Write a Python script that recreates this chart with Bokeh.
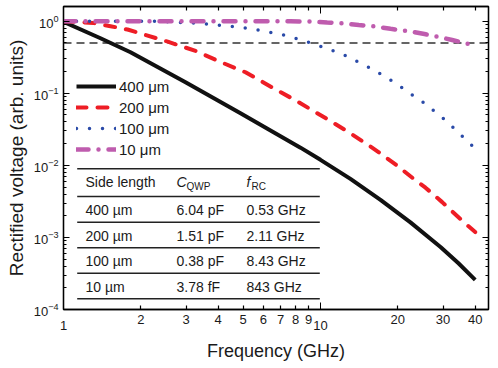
from bokeh.plotting import figure
from bokeh.models import (LogAxis, LinearAxis, FixedTicker, LogTickFormatter, Span, Legend,
                          LegendItem, Label, BoxAnnotation, Range1d)
from bokeh.embed import file_html
from bokeh.resources import INLINE

FONT = "Liberation Sans"

# ---------------- data ----------------
freq_400 = [1.0, 1.393, 1.823, 2.984, 4.884, 8.36, 10.0, 13.08, 17.12, 22.39, 29.31, 34.43, 40.0]
volt_400 = [0.978, 0.580, 0.371, 0.1422, 0.0528, 0.01761, 0.01193, 0.00649, 0.00332,
            0.001615, 0.000738, 0.000438, 0.000258]

freq_200 = [1.0, 1.308, 1.524, 1.775, 1.993, 2.562, 3.264, 4.083, 5.108, 5.842, 6.564, 7.99,
            9.39, 10.94, 12.85, 15.19, 16.82, 19.58, 23.0, 25.62, 29.75, 36.1, 40.0]
volt_200 = [1.0, 0.947, 0.852, 0.767, 0.675, 0.516, 0.387, 0.272, 0.1957, 0.1492, 0.1173,
            0.0799, 0.0568, 0.0412, 0.0290, 0.01957, 0.01530, 0.01032, 0.00654, 0.00490,
            0.00309, 0.00163, 0.001185]

freq_100 = [1.0, 1.414, 1.958, 2.343, 2.728, 3.264, 3.79, 4.297, 4.884, 5.502, 6.293, 7.096,
            7.99, 8.96, 10.0, 11.11, 12.26, 13.48, 14.74, 16.23, 17.82, 19.63, 21.42, 23.21,
            25.23, 27.2, 29.49, 31.86, 34.03, 37.0, 38.94, 40.0]
volt_100 = [1.0, 1.0, 1.0, 0.997, 0.969, 0.938, 0.900, 0.863, 0.825, 0.774, 0.708, 0.654,
            0.580, 0.511, 0.449, 0.392, 0.345, 0.291, 0.250, 0.207, 0.171, 0.1378, 0.1107,
            0.0899, 0.0739, 0.0595, 0.0475, 0.0369, 0.0297, 0.0221, 0.0187, 0.0171]

freq_10 = [1.0, 6.4, 7.64, 9.14, 10.62, 12.04, 14.09, 16.37, 18.73, 21.86, 25.39, 28.46,
           32.54, 37.76, 40.0]
volt_10 = [1.0, 1.0, 0.995, 0.99, 0.959, 0.938, 0.886, 0.844, 0.784, 0.731, 0.664, 0.613,
           0.548, 0.482, 0.445]

half_level = 0.5

x_start, x_end = 1.0, 45.06
y_start, y_end = 1e-4, 1.60
x_labeled_ticks = [2, 3, 4, 5, 6, 7, 8, 9, 20, 30, 40]
x_decade_ticks = [1, 10]
y_decade_ticks = [1e-4, 1e-3, 1e-2, 1e-1, 1.0]
y_minor_ticks = [m * d for d in [1e-4, 1e-3, 1e-2, 1e-1] for m in range(2, 10)]

legend_labels = ["400 \u03bcm", "200 \u03bcm", "100 \u03bcm", "10 \u03bcm"]
table_side = ["400 \u00b5m", "200 \u00b5m", "100 \u00b5m", "10 \u00b5m"]
table_cap = ["6.04 pF", "1.51 pF", "0.38 pF", "3.78 fF"]
table_frc = ["0.53 GHz", "2.11 GHz", "8.43 GHz", "843 GHz"]

# ---------------- figure ----------------
p = figure(width=498, height=368, x_axis_type="log", y_axis_type="log",
           x_range=Range1d(x_start, x_end), y_range=Range1d(y_start, y_end),
           x_axis_location=None, y_axis_location=None,
           output_backend="svg", toolbar_location=None,
           min_border_left=63, min_border_right=10, min_border_top=6, min_border_bottom=59)
p.grid.visible = False
p.outline_line_color = "black"
p.outline_line_width = 1.3


def style(ax, tick_in, minor_in, label_size):
    ax.axis_line_color = "black"
    ax.axis_line_width = 1.3
    ax.major_tick_line_color = "black"
    ax.minor_tick_line_color = "black"
    ax.major_tick_line_width = 1.2
    ax.minor_tick_line_width = 1.0
    ax.major_tick_out = 0
    ax.minor_tick_out = 0
    ax.major_tick_in = tick_in
    ax.minor_tick_in = minor_in
    ax.major_label_text_font = FONT
    ax.major_label_text_font_size = label_size
    ax.major_label_text_color = "#1a1a1a"
    ax.axis_label_text_font = FONT
    ax.axis_label_text_font_style = "normal"
    ax.axis_label_text_font_size = "18px"
    ax.axis_label_text_color = "#1a1a1a"


left = LogAxis(ticker=FixedTicker(ticks=y_decade_ticks, minor_ticks=y_minor_ticks),
               formatter=LogTickFormatter())
style(left, 6, 3, "13px")
left.major_label_standoff = 5
left.axis_label = "Rectified voltage (arb. units)"
left.axis_label_text_font_size = "19px"
left.axis_label_standoff = 4
p.add_layout(left, "left")

right = LinearAxis(ticker=FixedTicker(ticks=y_decade_ticks, minor_ticks=y_minor_ticks))
style(right, 6, 3, "0px")
right.major_label_standoff = 0
right.major_label_text_alpha = 0
p.add_layout(right, "right")

top = LinearAxis(ticker=FixedTicker(ticks=x_labeled_ticks, minor_ticks=x_decade_ticks))
style(top, 4, 7, "0px")
top.major_label_standoff = 0
top.major_label_text_alpha = 0
p.add_layout(top, "above")

bottom = LinearAxis(ticker=FixedTicker(ticks=x_labeled_ticks, minor_ticks=x_decade_ticks))
style(bottom, 4, 7, "13px")
bottom.major_label_standoff = 5
p.add_layout(bottom, "below")

# decade labels of the x axis sit lower than the others (as in the original)
bottom_dec = LinearAxis(ticker=FixedTicker(ticks=x_decade_ticks))
style(bottom_dec, 0, 0, "13px")
bottom_dec.axis_line_color = None
bottom_dec.major_tick_line_color = None
bottom_dec.minor_tick_line_color = None
bottom_dec.major_label_standoff = -6
bottom_dec.axis_label = "Frequency (GHz)"
bottom_dec.axis_label_standoff = 8
p.add_layout(bottom_dec, "below")

# ---------------- curves ----------------
p.add_layout(Span(location=half_level, dimension="width", line_color="#333333",
                  line_width=1.5, line_dash="8 5", level="underlay"))

r1 = p.line(freq_400, volt_400, line_color="#111111", line_width=4)
r2 = p.line(freq_200, volt_200, line_color="#ee1d25", line_width=4,
            line_dash="10 11", line_cap="round")
r3 = p.line(freq_100, volt_100, line_color="#2a4aa8", line_width=3.5,
            line_dash="0 13", line_cap="round")
r4 = p.line(freq_10, volt_10, line_color="#bf5cae", line_width=4.5,
            line_dash="12 10 0 10", line_cap="round")

legend = Legend(items=[LegendItem(label=legend_labels[i], renderers=[r])
                       for i, r in enumerate([r1, r2, r3, r4])],
                location=(13, 151), orientation="vertical",
                glyph_width=40, glyph_height=18, label_height=18, spacing=3,
                padding=0, margin=0, label_standoff=3,
                label_text_font=FONT, label_text_font_size="15px",
                label_text_color="#1a1a1a",
                border_line_color=None, background_fill_alpha=0)
p.add_layout(legend)

# ---------------- table (screen units relative to the frame) ----------------
FB = 309  # frame bottom in page px
FL = 63   # frame left in page px
rule_ys = [168.3, 196, 221.7, 247.3, 272.7, 298.3]
for ry in rule_ys:
    p.add_layout(BoxAnnotation(left=76.7 - FL, right=319.3 - FL,
                               bottom=FB - ry - 0.7, top=FB - ry + 0.7,
                               left_units="screen", right_units="screen",
                               top_units="screen", bottom_units="screen",
                               fill_color="#222222", fill_alpha=1, line_color=None))

col_x = [85 - FL, 176 - FL, 246 - FL]
head_y = FB - 181.7
row_ys = [FB - 209.3, FB - 235, FB - 260.7, FB - 286]


def lab(x, y, text, size="14px", style_="normal"):
    p.add_layout(Label(x=x, y=y, x_units="screen", y_units="screen", text=text,
                       text_font=FONT, text_font_size=size, text_font_style=style_,
                       text_baseline="middle", text_align="left", text_color="#1a1a1a"))


lab(col_x[0], head_y, "Side length")
lab(col_x[1], head_y, "C", style_="italic")
lab(col_x[1] + 10, head_y - 4, "QWP", size="10px")
lab(col_x[2], head_y, "f", style_="italic")
lab(col_x[2] + 5, head_y - 4, "RC", size="10px")
for i in range(4):
    lab(col_x[0], row_ys[i], table_side[i])
    lab(col_x[1], row_ys[i], table_cap[i])
    lab(col_x[2], row_ys[i], table_frc[i])

open("out.html", "w").write(file_html(p, INLINE))
